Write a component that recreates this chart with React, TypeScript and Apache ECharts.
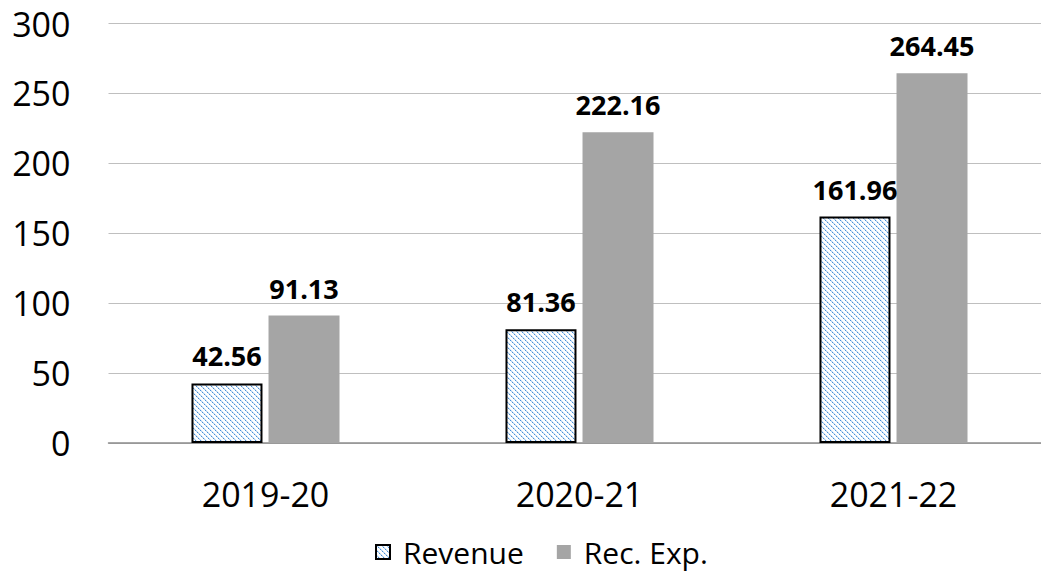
import React, { useEffect, useRef } from "react";
import * as echarts from "echarts";

const categories = ["2019-20", "2020-21", "2021-22"];
const revenue = [42.56, 81.36, 161.96];
const recExp = [91.13, 222.16, 264.45];
const seriesNames = ["Revenue", "Rec. Exp."];

function makeHatch(): HTMLCanvasElement {
  const c = document.createElement("canvas");
  const n = 10;
  c.width = n;
  c.height = n;
  const ctx = c.getContext("2d")!;
  ctx.fillStyle = "#ffffff";
  ctx.fillRect(0, 0, n, n);
  for (let i = 0; i < n; i++) {
    for (const off of [0, 5]) {
      const x = (i + off) % n;
      ctx.fillStyle = i % 2 === 0 ? "#4a8fd8" : "#a9cdef";
      ctx.fillRect(x, i, 1, 1);
      ctx.fillStyle = "#d4e6f7";
      ctx.fillRect((x + 1) % n, i, 1, 1);
    }
  }
  return c;
}

export default function App() {
  const ref = useRef<HTMLDivElement>(null);
  useEffect(() => {
    if (!ref.current) return;
    const chart = echarts.init(ref.current, undefined, { renderer: "svg" });
    const hatch = makeHatch();
    const font = "'Open Sans', sans-serif";
    const labelStyle = {
      show: true,
      position: "top",
      distance: 14,
      fontSize: 27,
      fontWeight: "bold",
      color: "#000",
      fontFamily: font,
    };
    chart.setOption({
      animation: false,
      backgroundColor: "#ffffff",
      textStyle: { fontFamily: font },
      grid: { left: 108.5, top: 23.5, width: 942, height: 419.5, containLabel: false },
      legend: {
        data: seriesNames,
        icon: "rect",
        top: 532,
        left: 370,
        itemWidth: 14,
        itemHeight: 14,
        itemGap: 33,
        textStyle: { fontSize: 30, color: "#000", fontFamily: font, padding: [0, 0, 0, 8] },
      },
      xAxis: {
        type: "category",
        data: categories,
        axisLine: { show: true, lineStyle: { color: "#8c8c8c", width: 1.5 } },
        axisTick: { show: false },
        axisLabel: { fontSize: 34, color: "#000", margin: 34, fontFamily: font },
      },
      yAxis: {
        type: "value",
        min: 0,
        max: 300,
        interval: 50,
        axisLine: { show: false },
        axisTick: { show: false },
        splitLine: { lineStyle: { color: "#bfbfbf", width: 1 } },
        axisLabel: { fontSize: 34, color: "#000", margin: 38, fontFamily: font },
      },
      series: [
        {
          name: seriesNames[0],
          type: "bar",
          data: revenue,
          barWidth: 71,
          barGap: "8.5%",
          itemStyle: {
            color: { image: hatch, repeat: "repeat" },
            borderColor: "#000",
            borderWidth: 2,
          },
          label: labelStyle,
        },
        {
          name: seriesNames[1],
          type: "bar",
          data: recExp,
          barWidth: 71,
          itemStyle: { color: "#a5a5a5" },
          label: labelStyle,
        },
      ],
    });
    return () => chart.dispose();
  }, []);
  return (
    <div
      style={{
        position: "absolute",
        left: 0,
        top: 0,
        width: 1041,
        height: 580,
        overflow: "hidden",
        background: "#fff",
      }}
    >
      <div ref={ref} style={{ width: 1060, height: 580 }} />
    </div>
  );
}
